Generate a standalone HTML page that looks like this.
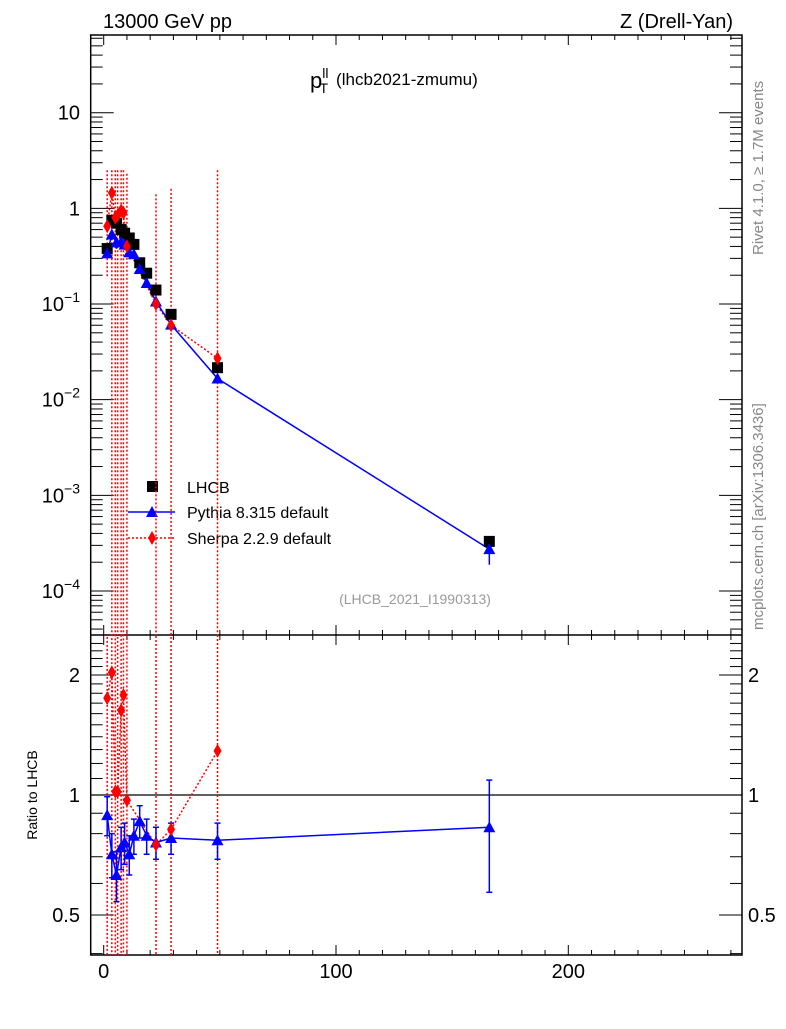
<!DOCTYPE html>
<html><head><meta charset="utf-8"><style>
body{margin:0;background:#fff}
svg text{font-family:"Liberation Sans",sans-serif}
</style></head><body>
<svg id="c" width="786" height="1024" xmlns="http://www.w3.org/2000/svg">
<text x="103" y="28" font-size="20">13000 GeV pp</text>
<text x="733" y="28" font-size="20" text-anchor="end">Z (Drell-Yan)</text>
<text x="310" y="88" font-size="22">p<tspan font-size="14" dy="-10">ll</tspan><tspan font-size="14" dx="-9" dy="15">T</tspan><tspan font-size="17" dy="-8" dx="8">(lhcb2021-zmumu)</tspan></text>
<text transform="translate(763,255) rotate(-90)" font-size="15" fill="#888">Rivet 4.1.0, ≥ 1.7M events</text>
<text transform="translate(763,630) rotate(-90)" font-size="15" fill="#888">mcplots.cern.ch [arXiv:1306.3436]</text>
<text x="415" y="604" font-size="14" fill="#999" text-anchor="middle">(LHCB_2021_I1990313)</text>
<text transform="translate(37,795) rotate(-90)" font-size="14" text-anchor="middle">Ratio to LHCB</text>
<g id="legend">
<rect x="147" y="481" width="11" height="11" fill="#000"/>
<text x="187" y="493" font-size="16">LHCB</text>
<line x1="128" y1="512" x2="175" y2="512" stroke="#00f" stroke-width="1.5"/>
<polygon points="152,506 146,517 158,517" fill="#00f"/>
<text x="187" y="518" font-size="16">Pythia 8.315 default</text>
<line x1="128" y1="538" x2="175" y2="538" stroke="#f00" stroke-width="1.5" stroke-dasharray="2,2"/>
<polygon points="152,531 156,538 152,545 148,538" fill="#f00"/>
<text x="187" y="544" font-size="16">Sherpa 2.2.9 default</text>
</g>
</svg>
<script>
const xs=[1.5,3.5,5.5,7.5,9,11,13,15.5,18.5,22.5,29,49,166];
const lhcb=[0.38,0.75,0.7,0.6,0.55,0.49,0.42,0.27,0.21,0.14,0.078,0.0216,0.00033];
const pythiaRatio=[0.89,0.71,0.63,0.74,0.76,0.71,0.79,0.86,0.79,0.76,0.78,0.77,0.83];
const pythiaRatioErr=[0.1,0.09,0.09,0.09,0.09,0.08,0.08,0.08,0.08,0.07,0.07,0.08,0.26];
const sherpaX=[1.5,3.5,5,6,7.5,8.5,10,22.5,29,49];
const sherpaRatio=[1.75,2.03,1.02,1.02,1.63,1.78,0.97,0.75,0.82,1.29];
const sherpaMain=[0.65,1.45,0.8,0.85,0.95,0.9,0.4,0.1,0.06,0.027];
const sherpaUp=[2.5,2.5,2.5,2.5,2.5,2.5,2.3,1.4,1.6,2.5];
const sherpaDn=[0.19,1e-6,1e-6,1e-6,1e-6,1e-6,1e-6,1e-6,1e-6,1e-6];
const X0=90.7,X1=742,T=35,MB=635,RB=955;
const sx=v=>103.7+2.323*v;
const sy=v=>112.7-95.66*(Math.log10(v)-1);
const ry=v=>795-398.6*Math.log10(v);
const svg=document.getElementById('c');const NS='http://www.w3.org/2000/svg';
function el(t,a,p){const e=document.createElementNS(NS,t);for(const k in a)e.setAttribute(k,a[k]);(p||svg).appendChild(e);return e;}
const g=el('g',{});


el('rect',{x:X0,y:T,width:X1-X0,height:RB-T,fill:'none',stroke:'#000','stroke-width':1.5},g);
el('line',{x1:X0,y1:MB,x2:X1,y2:MB,stroke:'#000','stroke-width':1.5},g);
for(let v=0;v<=270;v+=10){const x=sx(v);const L=v%100==0?10:5;
 for(const [b,d] of [[RB,-1],[MB,-1],[MB,1],[T,1]]) el('line',{x1:x,y1:b,x2:x,y2:b+d*L,stroke:'#000'},g);}
[0,100,200].forEach(v=>{const t=el('text',{x:sx(v),y:978,'font-size':20,'text-anchor':'middle'},g);t.textContent=v;
 
 });
for(let e=-5;e<=1;e++)for(let m=1;m<10;m++){const v=m*Math.pow(10,e);const y=sy(v);if(y<T||y>MB)continue;const L=m==1?23:12;
 el('line',{x1:X0,y1:y,x2:X0+L,y2:y,stroke:'#000'},g);el('line',{x1:X1,y1:y,x2:X1-L,y2:y,stroke:'#000'},g);}
const labs=[[10,'10'],[1,'1'],[0.1,'10<tspan font-size="14" dy="-9">−1</tspan>'],[0.01,'10<tspan font-size="14" dy="-9">−2</tspan>'],[0.001,'10<tspan font-size="14" dy="-9">−3</tspan>'],[0.0001,'10<tspan font-size="14" dy="-9">−4</tspan>']];
labs.forEach(([v,s])=>{const t=el('text',{x:80,y:sy(v)+7,'font-size':20,'text-anchor':'end'},g);t.innerHTML=s;
 
 });
for(let v=0.4;v<=2.5;v+=0.1){const y=ry(v);if(y<MB||y>RB)continue;const maj=[0.5,1,2].some(a=>Math.abs(a-v)<1e-6);const L=maj?23:12;
 el('line',{x1:X0,y1:y,x2:X0+L,y2:y,stroke:'#000'},g);el('line',{x1:X1,y1:y,x2:X1-L,y2:y,stroke:'#000'},g);}
[[2,'2'],[1,'1'],[0.5,'0.5']].forEach(([v,s])=>{for(const [x,a] of [[80,'end'],[748,'start']]){const t=el('text',{x:x,y:ry(v)+7,'font-size':20,'text-anchor':a},g);t.textContent=s;
 
 }});
el('line',{x1:X0,y1:ry(1),x2:X1,y2:ry(1),stroke:'#000','stroke-width':1.2},g);
const clipM=el('clipPath',{id:'cm'});el('rect',{x:X0,y:T,width:X1-X0,height:MB-T},clipM);
const clipR=el('clipPath',{id:'cr'});el('rect',{x:X0,y:MB,width:X1-X0,height:RB-MB},clipR);
function tri(x,y,p,n){const e=el('polygon',{points:`${x},${y-6} ${x-6},${y+5} ${x+6},${y+5}`,fill:'#00f'},p);
 
 }
function dia(x,y,p,n){const e=el('polygon',{points:`${x},${y-7} ${x+4},${y} ${x},${y+7} ${x-4},${y}`,fill:'#f00'},p);
 
 }
const gm=el('g',{'clip-path':'url(#cm)'});


sherpaX.forEach((v,i)=>{el('line',{x1:sx(v),y1:sy(sherpaUp[i]),x2:sx(v),y2:sy(sherpaDn[i]),stroke:'#f00','stroke-width':1.5,'stroke-dasharray':'2,2'},gm);});
el('polyline',{points:sherpaX.map((v,i)=>sx(v)+','+sy(sherpaMain[i])).join(' '),fill:'none',stroke:'#f00','stroke-width':1.5,'stroke-dasharray':'2,2'},gm);
const pm=xs.map((v,i)=>lhcb[i]*pythiaRatio[i]);
el('polyline',{points:xs.map((v,i)=>sx(v)+','+sy(pm[i])).join(' '),fill:'none',stroke:'#00f','stroke-width':1.5},gm);
xs.forEach((v,i)=>{const r1=pythiaRatio[i]+pythiaRatioErr[i],r0=pythiaRatio[i]-pythiaRatioErr[i];
 el('line',{x1:sx(v),y1:sy(lhcb[i]*r1),x2:sx(v),y2:sy(lhcb[i]*r0),stroke:'#00f','stroke-width':1.5},gm);});
xs.forEach((v,i)=>{const r=el('rect',{x:sx(v)-5.5,y:sy(lhcb[i])-5.5,width:11,height:11,fill:'#000'},gm);
 
 });
xs.forEach((v,i)=>tri(sx(v),sy(pm[i]),gm,'pythia-point'));
sherpaX.forEach((v,i)=>dia(sx(v),sy(sherpaMain[i]),gm,'sherpa-point'));
const gr=el('g',{'clip-path':'url(#cr)'});


sherpaX.forEach((v,i)=>{el('line',{x1:sx(v),y1:ry(sherpaUp[i]/sherpaMain[i]*sherpaRatio[i]),x2:sx(v),y2:RB,stroke:'#f00','stroke-width':1.5,'stroke-dasharray':'2,2'},gr);});
el('polyline',{points:sherpaX.map((v,i)=>sx(v)+','+ry(sherpaRatio[i])).join(' '),fill:'none',stroke:'#f00','stroke-width':1.5,'stroke-dasharray':'2,2'},gr);
el('polyline',{points:xs.map((v,i)=>sx(v)+','+ry(pythiaRatio[i])).join(' '),fill:'none',stroke:'#00f','stroke-width':1.5},gr);
xs.forEach((v,i)=>{const x=sx(v),a=ry(pythiaRatio[i]+pythiaRatioErr[i]),b=ry(pythiaRatio[i]-pythiaRatioErr[i]);
 el('line',{x1:x,y1:a,x2:x,y2:b,stroke:'#00f','stroke-width':1.5},gr);
 el('line',{x1:x-3,y1:a,x2:x+3,y2:a,stroke:'#00f','stroke-width':1.5},gr);
 el('line',{x1:x-3,y1:b,x2:x+3,y2:b,stroke:'#00f','stroke-width':1.5},gr);});
xs.forEach((v,i)=>tri(sx(v),ry(pythiaRatio[i]),gr,'pythia-ratio-point'));
sherpaX.forEach((v,i)=>dia(sx(v),ry(sherpaRatio[i]),gr,'sherpa-ratio-point'));
</script>
</body></html>
